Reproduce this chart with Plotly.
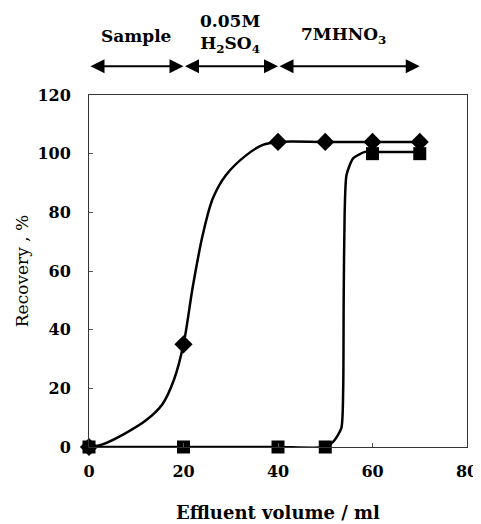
import plotly.graph_objects as go

volume = [0, 20, 40, 50, 60, 70]
diamond_recovery = [0, 35, 104, 104, 104, 104]
square_recovery = [0, 0, 0, 0, 100, 100]

# Smooth fitted curves as drawn in the picture
diamond_curve_x = [0, 3.0, 7.5, 12.0, 15.5, 18.0, 20.0, 22.0, 24.1, 26.2, 29.0, 33.3, 36.8, 40.0, 50, 60, 70]
diamond_curve_y = [0, 1.0, 4.5, 9.0, 14.5, 23.0, 35.0, 55.0, 72.5, 84.7, 92.7, 99.5, 103.0, 104.0, 104, 104, 104]
square_curve_x = [0, 20, 40, 50, 51.7, 53.4, 53.8, 53.9, 54.1, 54.5, 55.9, 58.4, 60, 70]
square_curve_y = [0, 0, 0, 0, 1.8, 6.4, 20, 50, 79, 92.7, 98.4, 100.6, 100.6, 100.6]

# Elution stages above the plot
stage_bounds = [0, 20, 40, 70]
stage_labels = ["Sample", "0.05M<br>H<sub>2</sub>SO<sub>4</sub>", "7MHNO<sub>3</sub>"]

x_ticks = [0, 20, 40, 60, 80]
y_ticks = [0, 20, 40, 60, 80, 100, 120]

SERIF = "DejaVu Serif"

fig = go.Figure()
fig.add_trace(go.Scatter(x=diamond_curve_x, y=diamond_curve_y, mode="lines",
                         line=dict(color="black", width=2.5, shape="spline", smoothing=0.9),
                         cliponaxis=False, showlegend=False, hoverinfo="skip"))
fig.add_trace(go.Scatter(x=square_curve_x, y=square_curve_y, mode="lines",
                         line=dict(color="black", width=2.5, shape="spline", smoothing=0.6),
                         cliponaxis=False, showlegend=False, hoverinfo="skip"))
fig.add_trace(go.Scatter(x=volume, y=diamond_recovery, mode="markers",
                         marker=dict(symbol="diamond", size=14, color="black"),
                         cliponaxis=False, showlegend=False))
fig.add_trace(go.Scatter(x=volume, y=square_recovery, mode="markers",
                         marker=dict(symbol="square", size=13, color="black"),
                         cliponaxis=False, showlegend=False))

arrow_y = 1.082   # paper units, above the plot frame
annotations = []
for i in range(len(stage_bounds) - 1):
    a, b = stage_bounds[i], stage_bounds[i + 1]
    annotations.append(dict(x=b, y=arrow_y, ax=a, ay=0, xref="x", yref="paper",
                            axref="x", ayref="pixel", text="", showarrow=True,
                            arrowhead=2, startarrowhead=2, arrowside="end+start",
                            arrowsize=1.4, startarrowsize=1.4, arrowwidth=2, arrowcolor="black",
                            standoff=0, startstandoff=0))
label_y = [1.168, 1.176, 1.168]
label_shift = [0, -1, -5]
for i, lab in enumerate(stage_labels):
    mid = (stage_bounds[i] + stage_bounds[i + 1]) / 2
    annotations.append(dict(x=mid, y=label_y[i], xref="x", yref="paper", text="<b>" + lab + "</b>",
                            showarrow=False, xshift=label_shift[i], yanchor="middle",
                            font=dict(family=SERIF, size=17, color="black")))

# the page body adds an 8px margin around the figure, so the figure is sized to fit the window
fig.update_layout(
    width=473, height=516,
    margin=dict(l=81, r=14, t=87, b=77),
    paper_bgcolor="white", plot_bgcolor="white",
    annotations=annotations,
    font=dict(family=SERIF, color="black"),
)
fig.update_xaxes(range=[0, 80], tickvals=x_ticks, ticktext=["<b>%d</b>" % v for v in x_ticks],
                 showgrid=False, zeroline=False, showline=True, linecolor="#333", linewidth=1,
                 mirror=True, ticks="inside", ticklen=4, tickcolor="#555", automargin=False,
                 ticklabelstandoff=10,
                 tickfont=dict(family=SERIF, size=16, color="black"),
                 title=dict(text="<b>Effluent volume / ml</b>", font=dict(family=SERIF, size=18, color="black"),
                            standoff=26))
fig.update_yaxes(range=[0, 120], tickvals=y_ticks, ticktext=["<b>%d</b>" % v for v in y_ticks],
                 showgrid=False, zeroline=False, showline=True, linecolor="#333", linewidth=1,
                 mirror=True, ticks="inside", ticklen=4, tickcolor="#555", automargin=False,
                 ticklabelstandoff=14,
                 tickfont=dict(family=SERIF, size=16, color="black"),
                 title=dict(text="Recovery , %", font=dict(family=SERIF, size=17, color="black"),
                            standoff=4))

fig.write_html("out.html")
